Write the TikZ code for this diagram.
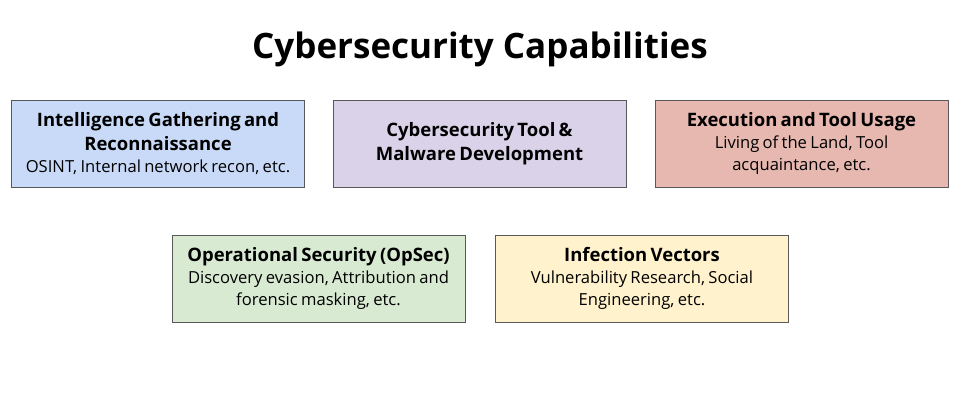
\documentclass[tikz,border=0pt]{standalone}
\usepackage{fontspec}
\setmainfont{Open Sans}
\usepackage{xcolor}
\usepackage{tikz}
\usetikzlibrary{positioning}
\definecolor{edge}{HTML}{595959}
\definecolor{intelBg}{HTML}{C9DAF8}
\definecolor{toolBg}{HTML}{D9D2E9}
\definecolor{execBg}{HTML}{E6B8AF}
\definecolor{opsecBg}{HTML}{D9EAD3}
\definecolor{vectorBg}{HTML}{FFF2CC}
\newcommand{\capHead}[1]{{\bfseries\fontsize{18.5}{24.5}\selectfont #1\par}}
\newcommand{\capBody}[1]{{\fontsize{16.6}{22}\selectfont #1\par}}

\begin{document}
\begin{tikzpicture}[x=1pt,y=-1pt,
    capbox/.style={draw=edge, line width=0.9pt, minimum width=293pt,
      minimum height=87pt, inner sep=3pt, text width=287pt,
      align=center, text=black}]
  \useasboundingbox (0,0) rectangle (960,400);
  \node[font=\bfseries\fontsize{35}{40}\selectfont] (title) at (480,49) {Cybersecurity Capabilities};
  % top row
  \node[capbox, fill=intelBg] (intel) at (158,143.5) {%
    \capHead{Intelligence Gathering and\\Reconnaissance}
    \capBody{OSINT, Internal network recon, etc.}};
  \node[capbox, fill=toolBg] (tooldev) at (479.5,143.5) {%
    \capHead{Cybersecurity Tool \&\\Malware Development}};
  \node[capbox, fill=execBg] (exec) at (801.5,143.5) {%
    \capHead{Execution and Tool Usage}
    \capBody{Living of the Land, Tool\\acquaintance, etc.}};
  % bottom row
  \node[capbox, fill=opsecBg] (opsec) at (318.5,278.5) {%
    \capHead{Operational Security (OpSec)}
    \capBody{Discovery evasion, Attribution and\\forensic masking, etc.}};
  \node[capbox, fill=vectorBg] (vectors) at (642,278.5) {%
    \capHead{Infection Vectors}
    \capBody{Vulnerability Research, Social\\Engineering, etc.}};
\end{tikzpicture}
\end{document}
